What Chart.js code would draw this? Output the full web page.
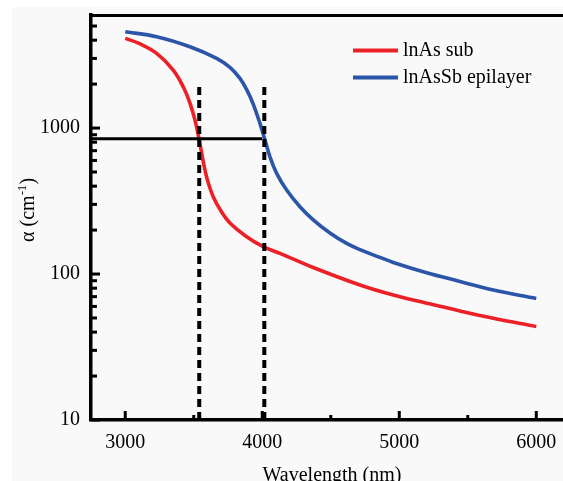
<!DOCTYPE html>
<html><head><meta charset="utf-8">
<script src="https://cdn.jsdelivr.net/npm/chart.js@4.4.0/dist/chart.umd.min.js"></script>
<style>html,body{margin:0;padding:0;background:#fff;overflow:hidden}canvas{display:block}</style>
</head><body>
<canvas id="c" width="563" height="481"></canvas>
<script>
// ---- data ----
const seriesNames = ['lnAs sub', 'lnAsSb epilayer'];
const inasX = [3000, 3100, 3229, 3350, 3423, 3472, 3509, 3540, 3567, 3596, 3642, 3699, 3764, 3886, 4007, 4129, 4372, 4713, 4956, 5200, 5443, 5686, 6000];
const inasY = [4115, 3803, 3249, 2496, 1918, 1483, 1134, 828, 604, 454, 338, 270, 224, 180, 154, 138.6, 110.8, 84.1, 71.8, 63.1, 55.8, 49.8, 43.7];
const inasSbX = [3000, 3229, 3472, 3667, 3764, 3837, 3888, 3934, 3983, 4020, 4056, 4105, 4178, 4275, 4372, 4494, 4616, 4713, 4859, 4956, 5200, 5443, 5686, 6000];
const inasSbY = [4566, 4221, 3605, 3001, 2604, 2190, 1820, 1460, 1077, 828, 636, 489, 376, 289, 235, 191, 162, 147, 130, 120, 102, 89, 77.7, 68];
const xTickValues = [3000, 4000, 5000, 6000];
const xMinorTickValues = [3500, 4500, 5500];
const yTickValues = [10, 100, 1000];
const yTickLabels = ['10', '100', '1000'];
const cutoffX = [3540, 4015];
const cutoffTopY = 2000;
const refLevelY = 845;
const refLevelXStart = 2750;
const refLevelXEnd = 4000;
const xTitle = 'Wavelength (nm)';
const yTitleParts = ['α (cm', '-1', ')'];

const xMin = 2750, xMax = 6195, yMin = 10, yMax = 5950;
const FONT = "'Liberation Serif', 'Times New Roman', serif";
const RED = '#ec2027', BLUE = '#2a55a8';

const pts = (xs, ys) => xs.map((v, i) => ({x: v, y: ys[i]}));

const datasets = [
  {label: seriesNames[0], data: pts(inasX, inasY), borderColor: RED, borderWidth: 3.6,
   tension: 0.4, pointRadius: 0, order: 2, legend: true},
  {label: seriesNames[1], data: pts(inasSbX, inasSbY), borderColor: BLUE, borderWidth: 3.6,
   tension: 0.4, pointRadius: 0, order: 2, legend: true},
  {label: 'cut1', data: [{x: cutoffX[0], y: yMin}, {x: cutoffX[0], y: cutoffTopY}], borderColor: '#000',
   borderWidth: 4, borderDash: [8, 5], pointRadius: 0, order: 0},
  {label: 'cut2', data: [{x: cutoffX[1], y: yMin}, {x: cutoffX[1], y: cutoffTopY}], borderColor: '#000',
   borderWidth: 4, borderDash: [8, 5], pointRadius: 0, order: 0},
  {label: 'level', data: [{x: refLevelXStart, y: refLevelY}, {x: refLevelXEnd, y: refLevelY}], borderColor: '#000',
   borderWidth: 3, pointRadius: 0, order: 1}
];

const zeroPad = s => { s.paddingTop = 0; s.paddingBottom = 0; s.paddingLeft = 0; s.paddingRight = 0; };

const decor = {
  id: 'decor',
  beforeDraw(chart) {
    const c = chart.ctx;
    c.save();
    c.fillStyle = '#ffffff'; c.fillRect(0, 0, chart.width, chart.height);
    c.fillStyle = '#f9f9f9'; c.fillRect(12, 7, chart.width, chart.height);
    c.restore();
  },
  afterDraw(chart) {
    const {ctx, chartArea: a, scales: {x, y}} = chart;
    ctx.save();
    ctx.strokeStyle = '#000';
    ctx.lineCap = 'butt';
    ctx.lineWidth = 3;
    ctx.beginPath(); ctx.moveTo(a.left - 1.75, a.top + 0.5); ctx.lineTo(a.right, a.top + 0.5); ctx.stroke();
    const xt = (v, len) => { const p = x.getPixelForValue(v); ctx.beginPath(); ctx.moveTo(p, a.bottom); ctx.lineTo(p, a.bottom - len); ctx.stroke(); };
    const yt = (v, len) => { const p = y.getPixelForValue(v); ctx.beginPath(); ctx.moveTo(a.left, p); ctx.lineTo(a.left + len, p); ctx.stroke(); };
    xTickValues.forEach(v => xt(v, 9));
    xMinorTickValues.forEach(v => xt(v, 5));
    yTickValues.forEach(v => yt(v, 9));
    yTickValues.forEach(d => { for (let m = 2; m <= 9; m++) { const v = d * m; if (v <= y.max) yt(v, 6); } });
    ctx.fillStyle = '#000';
    ctx.font = '20px ' + FONT;
    ctx.textAlign = 'center'; ctx.textBaseline = 'alphabetic';
    ctx.fillText(xTitle, 332, 481);
    ctx.save();
    ctx.translate(34, 242);
    ctx.rotate(-Math.PI / 2);
    ctx.textAlign = 'left';
    ctx.font = '20px ' + FONT;
    ctx.fillText(yTitleParts[0], 0, 0);
    let w = ctx.measureText(yTitleParts[0]).width;
    ctx.font = '12px ' + FONT;
    ctx.fillText(yTitleParts[1], w + 0.5, -8);
    w += ctx.measureText(yTitleParts[1]).width + 1;
    ctx.font = '20px ' + FONT;
    ctx.fillText(yTitleParts[2], w, 0);
    ctx.restore();
    const legendItems = chart.data.datasets.filter(d => d.legend);
    legendItems.forEach((d, i) => {
      const ly = 50.5 + i * 27;
      ctx.strokeStyle = d.borderColor; ctx.lineWidth = 4;
      ctx.beginPath(); ctx.moveTo(353, ly); ctx.lineTo(398, ly); ctx.stroke();
      ctx.fillStyle = '#000'; ctx.font = '20px ' + FONT; ctx.textAlign = 'left'; ctx.textBaseline = 'alphabetic';
      ctx.fillText(d.label, 403, ly + 5.5);
    });
    ctx.restore();
  }
};

new Chart(document.getElementById('c'), {
  type: 'line',
  data: {datasets},
  options: {
    responsive: false, animation: false, devicePixelRatio: 1,
    layout: {padding: {top: 15, right: 0, left: 0, bottom: 0}},
    plugins: {legend: {display: false}, tooltip: {enabled: false}},
    scales: {
      x: {
        type: 'linear', min: xMin, max: xMax,
        afterFit: s => { s.height = 61; zeroPad(s); },
        afterBuildTicks: s => { s.ticks = xTickValues.map(v => ({value: v})); },
        ticks: {color: '#000', font: {family: FONT, size: 20}, padding: 11, maxRotation: 0, autoSkip: false,
                callback: v => String(v)},
        grid: {display: true, drawOnChartArea: false, drawTicks: false},
        border: {display: true, color: '#000', width: 3.5}
      },
      y: {
        type: 'logarithmic', min: yMin, max: yMax,
        afterFit: s => { s.width = 91; zeroPad(s); },
        afterBuildTicks: s => { s.ticks = yTickValues.map(v => ({value: v})); },
        ticks: {color: '#000', font: {family: FONT, size: 20}, padding: 11, autoSkip: false,
                callback: v => yTickLabels[yTickValues.indexOf(v)] ?? ''},
        grid: {display: true, drawOnChartArea: false, drawTicks: false},
        border: {display: true, color: '#000', width: 3.5}
      }
    }
  },
  plugins: [decor]
});
</script>
</body></html>
